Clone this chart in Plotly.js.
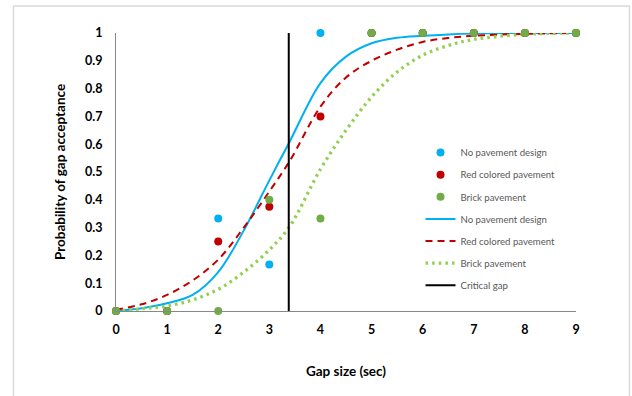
<!DOCTYPE html>
<html>
<head>
<meta charset="utf-8">
<script src="https://cdn.plot.ly/plotly-3.0.1.min.js"></script>
<style>
html,body{margin:0;padding:0;background:#fff;}
#chart{width:632px;height:396px;}
</style>
</head>
<body>
<div id="chart"></div>
<script>
// Observed points
var gapSizes = [0, 1, 2, 3, 4, 5, 6, 7, 8, 9];
var obsNoPavement = [0, 0, 0.333, 0.167, 1, 1, 1, 1, 1, 1];
var obsRedColored = [0, 0, 0.25, 0.375, 0.7, 1, 1, 1, 1, 1];
var obsBrick = [0, 0, 0, 0.4, 0.333, 1, 1, 1, 1, 1];

// Fitted curves
var curveX = [0, 0.5, 1, 1.5, 2, 2.5, 3, 3.4, 4, 4.5, 5, 5.5, 6, 6.5, 7, 8, 9];
var fitNoPavement = [0, 0.01, 0.028, 0.058, 0.14, 0.29, 0.47, 0.61, 0.82, 0.915, 0.963, 0.983, 0.99, 0.995, 0.998, 1, 1];
var fitRedColored = [0.005, 0.024, 0.058, 0.11, 0.185, 0.3, 0.43, 0.54, 0.735, 0.84, 0.9, 0.94, 0.968, 0.982, 0.99, 0.997, 1];
var fitBrick = [0, 0.008, 0.018, 0.04, 0.078, 0.14, 0.22, 0.305, 0.51, 0.65, 0.77, 0.86, 0.92, 0.955, 0.977, 0.995, 1];

var criticalGap = 3.38;
var criticalX = [criticalGap, criticalGap];
var criticalY = [0, 1];

var legendNames = ["No pavement design", "Red colored pavement", "Brick pavement", "Critical gap"];
var xTicks = [0, 1, 2, 3, 4, 5, 6, 7, 8, 9];
var yTicks = [0, 0.1, 0.2, 0.3, 0.4, 0.5, 0.6, 0.7, 0.8, 0.9, 1];
var yTickText = ["0", "0.1", "0.2", "0.3", "0.4", "0.5", "0.6", "0.7", "0.8", "0.9", "1"];

var traces = [
  {x: curveX, y: fitNoPavement, mode: 'lines', name: legendNames[0], legendrank: 4, legendgroup: 'g4',
   line: {color: '#00B0F0', width: 2, shape: 'spline'}, cliponaxis: false},
  {x: curveX, y: fitRedColored, mode: 'lines', name: legendNames[1], legendrank: 5, legendgroup: 'g5',
   line: {color: '#C00000', width: 2, dash: '7px,5px', shape: 'spline'}, cliponaxis: false},
  {x: curveX, y: fitBrick, mode: 'lines', name: legendNames[2], legendrank: 6, legendgroup: 'g6',
   line: {color: '#92D050', width: 3.3, dash: '2.6px,4px', shape: 'spline'}, cliponaxis: false},
  {x: criticalX, y: criticalY, mode: 'lines', name: legendNames[3], legendrank: 7, legendgroup: 'g7',
   line: {color: '#000000', width: 2}, cliponaxis: false},
  {x: gapSizes, y: obsNoPavement, mode: 'markers', name: legendNames[0], legendrank: 1, legendgroup: 'g1',
   marker: {color: '#00B0F0', size: 8}, cliponaxis: false},
  {x: gapSizes, y: obsRedColored, mode: 'markers', name: legendNames[1], legendrank: 2, legendgroup: 'g2',
   marker: {color: '#C00000', size: 8}, cliponaxis: false},
  {x: gapSizes, y: obsBrick, mode: 'markers', name: legendNames[2], legendrank: 3, legendgroup: 'g3',
   marker: {color: '#70AD47', size: 8}, cliponaxis: false}
];

var layout = {
  width: 632, height: 396,
  margin: {l: 116, r: 56, t: 33, b: 85},
  paper_bgcolor: '#ffffff', plot_bgcolor: '#ffffff',
  font: {family: 'Lato, "Open Sans", sans-serif', color: '#000'},
  showlegend: true,
  legend: {
    x: 0.662, y: 0.622, xanchor: 'left', yanchor: 'top',
    bgcolor: 'rgba(0,0,0,0)', borderwidth: 0,
    font: {size: 9.6, color: '#595959'},
    tracegroupgap: 3.1, itemwidth: 30
  },
  xaxis: {
    range: [0, 9], tickvals: xTicks, ticks: '', showgrid: false, zeroline: false,
    showline: true, linecolor: '#888888', linewidth: 1, ticklabelstandoff: 7,
    tickfont: {size: 12.5, color: '#000', family: 'Lato, sans-serif', weight: 'bold'},
    title: {text: '<b>Gap size (sec)</b>', font: {size: 13.5, color: '#000'}, standoff: 30}
  },
  yaxis: {
    range: [0, 1], tickvals: yTicks, ticktext: yTickText, ticks: '', showgrid: false, zeroline: false,
    showline: true, linecolor: '#888888', linewidth: 1, ticklabelstandoff: 10,
    tickfont: {size: 12.5, color: '#000', family: 'Lato, sans-serif', weight: 'bold'},
    title: {text: '<b>Probability of gap acceptance</b>', font: {size: 13.5, color: '#000'}, standoff: 16}
  },
  shapes: [{
    type: 'rect', xref: 'paper', yref: 'paper', layer: 'below',
    x0: (13.5 - 116) / 460, x1: (629.5 - 116) / 460,
    y0: (311 - 400) / 278, y1: (311 - 6) / 278,
    line: {color: '#D9D9D9', width: 1.5}, fillcolor: 'rgba(0,0,0,0)'
  }]
};

Plotly.newPlot('chart', traces, layout, {displayModeBar: false, staticPlot: true});
</script>
</body>
</html>
